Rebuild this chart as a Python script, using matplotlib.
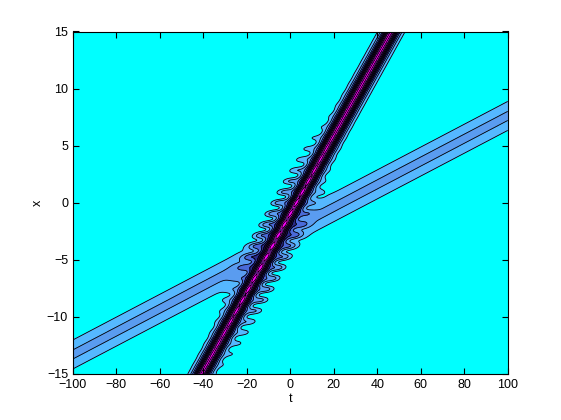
import numpy as np
import matplotlib
matplotlib.use('Agg')
import matplotlib.pyplot as plt

# Ejes y ticks
t_ticks = [-100, -80, -60, -40, -20, 0, 20, 40, 60, 80, 100]
x_ticks = [-15, -10, -5, 0, 5, 10, 15]
niveles = [1, 2, 3, 4, 5, 6, 7, 8, 9]

# Solitones: velocidad, posicion en t=0, amplitud, ancho
sol_rapido = [0.3436, -0.98, 9.15, 1.23]
sol_lento = [0.100, -3.3, 2.18, 1.35]
salto_lento = 0.9      # desplazamiento de fase del soliton lento tras el choque
t_choque = -8.0

# Radiacion en la zona del choque: base, amplitud, centro t, ancho t, periodo en x
ondas = [1.1, 1.1, -8.0, 19.0, 0.95]

colores = ['#00ffff', '#55b8ff', '#5a9cf0', '#4a6ad8', '#2a2a8a', '#1a1050',
           '#200a40', '#30104a', '#601880', '#ff00ff']

t = np.linspace(-100, 100, 1201)
x = np.linspace(-15, 15, 721)
T, X = np.meshgrid(t, x)

v1, x1, a1, w1 = sol_rapido
v2, x2, a2, w2 = sol_lento

n1 = X - (v1 * T + x1)
paso = (1 + np.tanh((T - t_choque) / 4.0)) / 2
n2 = X - (v2 * T + x2 + salto_lento * paso)

env = np.exp(-((T - ondas[2]) / ondas[3]) ** 2)
u1 = a1 * (1 + 0.025 * env * np.cos(2 * np.pi * X / ondas[4])) / np.cosh(n1 / w1) ** 2
u2 = a2 / np.cosh(n2 / w2) ** 2
u = u1 + u2 * (1 - u1 / a1) ** 2
borde = np.exp(-((np.abs(n1) - 2.8) / 1.3) ** 2)
u = u + env * borde * (ondas[0] + ondas[1] * np.cos(2 * np.pi * X / ondas[4]))

fig = plt.figure(figsize=(5.61, 4.2), dpi=100)
ax = fig.add_axes([0.13, 0.11, 0.775, 0.815])

lev_fill = [-10] + niveles + [100]
ax.contourf(T, X, u, levels=lev_fill, colors=colores)
ax.contour(T, X, u, levels=niveles, colors='k', linewidths=0.6)

ax.set_xlim(-100, 100)
ax.set_ylim(-15, 15)
ax.set_xticks(t_ticks)
ax.set_yticks(x_ticks)
ax.tick_params(direction='in', top=True, right=True, labelsize=9, length=4)
for lab in ax.get_xticklabels() + ax.get_yticklabels():
    lab.set_family('Liberation Sans')
ax.set_xlabel('t', fontsize=9, family='Liberation Sans', labelpad=2)
ax.set_ylabel('x', fontsize=9, family='Liberation Sans', labelpad=2)

plt.savefig('out.png', dpi=100)
plt.close()
